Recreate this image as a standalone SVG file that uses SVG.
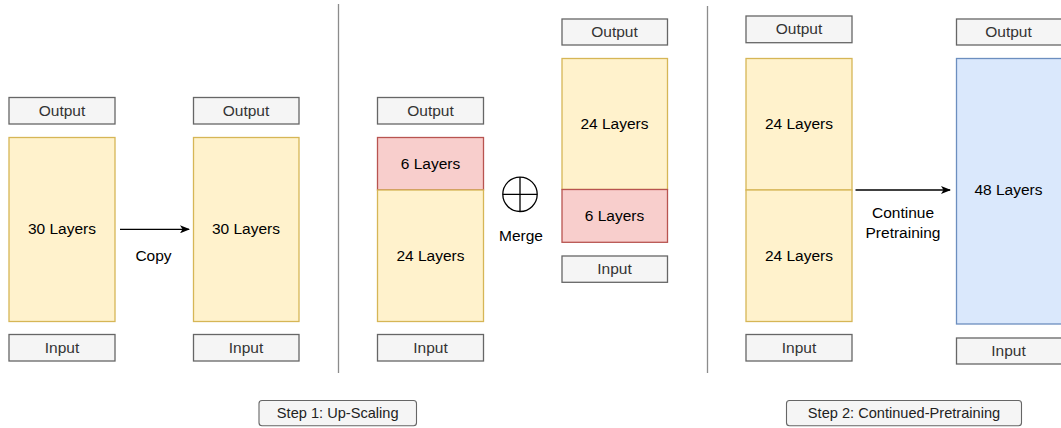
<svg xmlns="http://www.w3.org/2000/svg" width="1061" height="428" viewBox="0 0 1061 428">
  <style>
    text { font-family: "Liberation Sans", Arial, sans-serif; font-size: 15.5px; text-anchor: middle; dominant-baseline: central; fill: #000; }
    .io rect { fill: #f5f5f5; stroke: #666666; stroke-width: 1.3; }
    .io text { fill: #333333; }
    .yel { fill: #fff2cc; stroke: #d6b656; stroke-width: 1.3; }
    .red { fill: #f8cecc; stroke: #b85450; stroke-width: 1.3; }
    .blue { fill: #dae8fc; stroke: #6c8ebf; stroke-width: 1.3; }
    .sep { stroke: #8c8c8c; stroke-width: 1.3; }
    .conn { stroke: #000; stroke-width: 1.3; fill: none; }
    .step rect { fill: #f5f5f5; stroke: #666666; stroke-width: 1.1; }
    .step text { font-size: 14.6px; fill: #222; }
  </style>
  <defs>
    <marker id="arrow" viewBox="0 0 10 8" refX="9" refY="4" markerWidth="10" markerHeight="8" markerUnits="userSpaceOnUse" orient="auto">
      <path d="M0,0 L10,4 L0,8 L2.5,4 Z" fill="#000"/>
    </marker>
  </defs>
  <rect width="1061" height="428" fill="#ffffff"/>

  <!-- section separators -->
  <g id="separators">
    <line class="sep" x1="338.5" y1="4" x2="338.5" y2="373"/>
    <line class="sep" x1="707.5" y1="6" x2="707.5" y2="373"/>
  </g>

  <!-- column 1: original model -->
  <g id="base-output" class="io"><rect x="9" y="97.5" width="106" height="26.5"/><text x="62" y="110">Output</text></g>
  <g id="base-layers"><rect class="yel" x="9" y="137.5" width="106" height="184"/><text x="62" y="228.3">30 Layers</text></g>
  <g id="base-input" class="io"><rect x="9" y="334.5" width="106" height="26.5"/><text x="62" y="347">Input</text></g>

  <!-- column 2: copied model -->
  <g id="copy-output" class="io"><rect x="193.5" y="97.5" width="105.5" height="26.5"/><text x="246" y="110">Output</text></g>
  <g id="copy-layers"><rect class="yel" x="193.5" y="137.5" width="105.5" height="184"/><text x="246" y="228.3">30 Layers</text></g>
  <g id="copy-input" class="io"><rect x="193.5" y="334.5" width="105.5" height="26.5"/><text x="246" y="347">Input</text></g>

  <!-- column 3: top layers removed -->
  <g id="a-output" class="io"><rect x="377.5" y="97.5" width="106" height="26.5"/><text x="430.5" y="110">Output</text></g>
  <g id="a-top6"><rect class="red" x="377.5" y="137.5" width="106" height="52.5"/><text x="430.5" y="163">6 Layers</text></g>
  <g id="a-bottom24"><rect class="yel" x="377.5" y="190" width="106" height="131.5"/><text x="430.5" y="255.3">24 Layers</text></g>
  <g id="a-input" class="io"><rect x="377.5" y="334.5" width="106" height="26.5"/><text x="430.5" y="347">Input</text></g>

  <!-- merge symbol -->
  <g id="merge">
    <circle cx="520" cy="194.3" r="17.2" fill="none" stroke="#000" stroke-width="1.3"/>
    <line x1="502.8" y1="194.3" x2="537.2" y2="194.3" stroke="#000" stroke-width="1.3"/>
    <line x1="520" y1="177.1" x2="520" y2="211.5" stroke="#000" stroke-width="1.3"/>
    <text x="521" y="235">Merge</text>
  </g>

  <!-- column 4: bottom layers removed -->
  <g id="b-output" class="io"><rect x="562" y="19" width="105.5" height="26"/><text x="614.5" y="31.3">Output</text></g>
  <g id="b-top24"><rect class="yel" x="562" y="58.5" width="105.5" height="131"/><text x="614.5" y="123.1">24 Layers</text></g>
  <g id="b-bottom6"><rect class="red" x="562" y="189.5" width="105.5" height="52.8"/><text x="614.5" y="215.1">6 Layers</text></g>
  <g id="b-input" class="io"><rect x="562" y="256" width="105.5" height="26.3"/><text x="614.5" y="268.3">Input</text></g>

  <!-- column 5: merged model -->
  <g id="m-output" class="io"><rect x="746" y="16" width="106" height="26.7"/><text x="799" y="28.6">Output</text></g>
  <g id="m-top24"><rect class="yel" x="746" y="58.5" width="106" height="131.5"/><text x="799" y="123.3">24 Layers</text></g>
  <g id="m-bottom24"><rect class="yel" x="746" y="190" width="106" height="131.5"/><text x="799" y="255.3">24 Layers</text></g>
  <g id="m-input" class="io"><rect x="746" y="334.5" width="106" height="26.5"/><text x="799" y="347">Input</text></g>

  <!-- column 6: continued-pretrained model -->
  <g id="f-output" class="io"><rect x="956.5" y="19" width="106" height="26"/><text x="1008.5" y="31.3">Output</text></g>
  <g id="f-layers"><rect class="blue" x="956.5" y="58.5" width="106" height="265.5"/><text x="1008.5" y="189.8">48 Layers</text></g>
  <g id="f-input" class="io"><rect x="956.5" y="338" width="106" height="26"/><text x="1008.5" y="350.3">Input</text></g>

  <!-- connectors -->
  <g id="connectors">
    <line class="conn" x1="120" y1="229.3" x2="189" y2="229.3" marker-end="url(#arrow)"/>
    <text x="153.5" y="255">Copy</text>
    <line class="conn" x1="855.5" y1="190" x2="950" y2="190" marker-end="url(#arrow)"/>
    <text x="903" y="212">Continue</text>
    <text x="903" y="232">Pretraining</text>
  </g>

  <!-- step labels -->
  <g id="step1" class="step"><rect x="259" y="400.5" width="157.5" height="25.3" rx="3"/><text x="337.7" y="412.6">Step 1: Up-Scaling</text></g>
  <g id="step2" class="step"><rect x="786.5" y="400.5" width="235" height="25.3" rx="3"/><text x="904" y="412.6">Step 2: Continued-Pretraining</text></g>
</svg>
